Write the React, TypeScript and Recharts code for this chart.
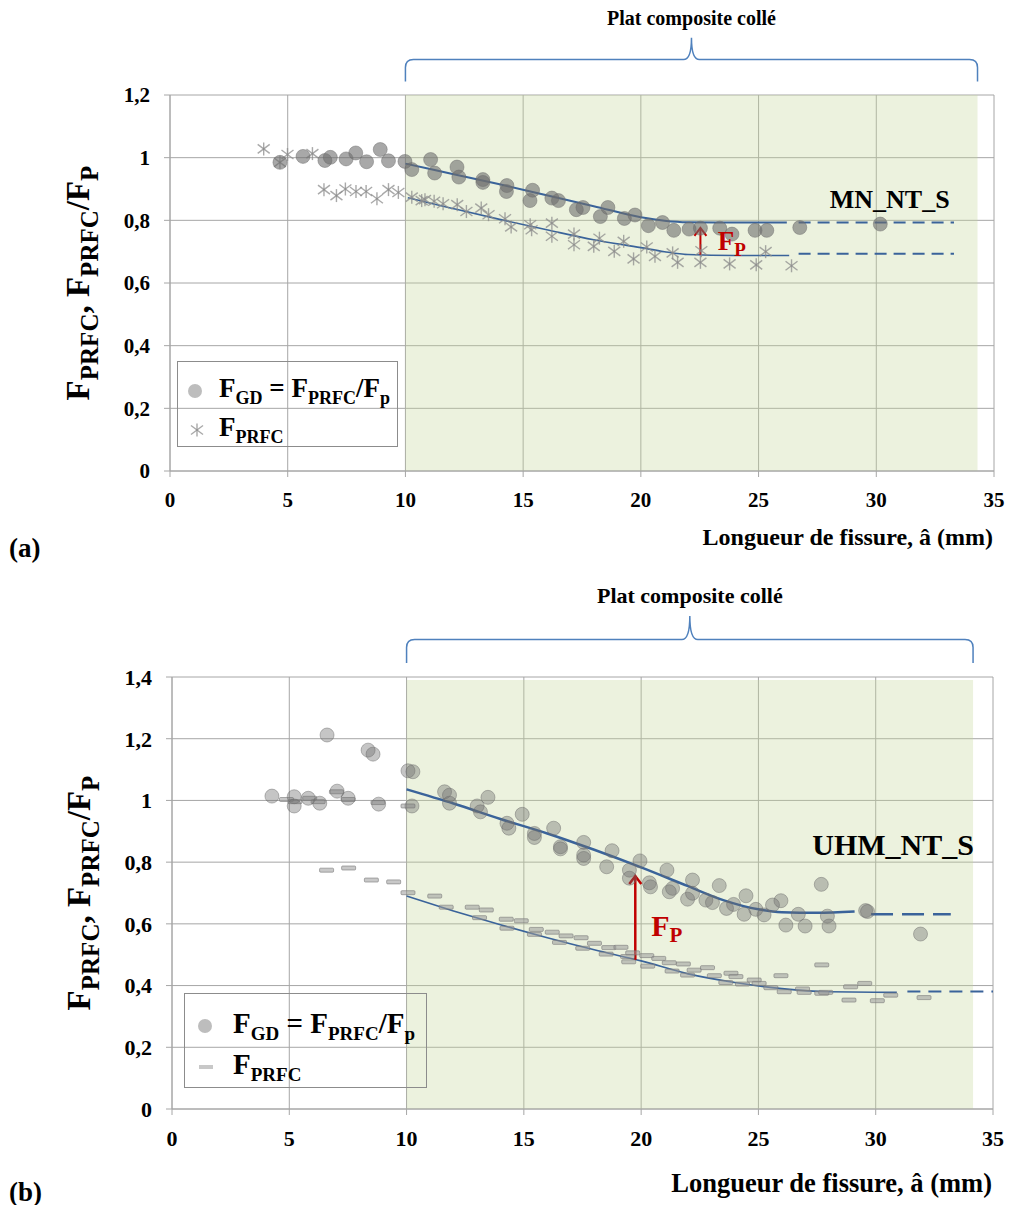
import React from 'react';
import {
  CartesianGrid,
  ComposedChart,
  Legend,
  Line,
  ReferenceArea,
  ReferenceDot,
  ReferenceLine,
  Scatter,
  XAxis,
  YAxis,
} from 'recharts';

const SERIF = '"Liberation Serif", "Times New Roman", serif';
const GRID = '#a6a6a6';
const FIT = '#3a639a';
const RED = '#c00000';
const PLATE = '#c4d79b';
const BRACE = '#4f81bd';

type Pt = [number, number];

// shared axes
const xTicks = [0, 5, 10, 15, 20, 25, 30, 35];
const yTicksA = [0, 0.2, 0.4, 0.6, 0.8, 1, 1.2];
const yTicksB = [0, 0.2, 0.4, 0.6, 0.8, 1, 1.2, 1.4];
const plateStart = 10;
const plateEndA = 34.3;
const plateEndB = 34.15;

// (a) MN_NT_S : F_GD = F_PRFC / Fp (circles)
const gdA: Pt[] = [
  [4.67, 0.985], [5.65, 1.004], [6.58, 0.991], [6.81, 1.001], [7.48, 0.996], [7.89, 1.015],
  [8.35, 0.987], [8.93, 1.026], [9.28, 0.99], [9.98, 0.988], [10.27, 0.962], [11.07, 0.994],
  [11.24, 0.951], [12.19, 0.97], [12.27, 0.938], [13.29, 0.93], [13.29, 0.921], [14.31, 0.911],
  [14.29, 0.892], [15.4, 0.896], [15.29, 0.863], [16.22, 0.871], [16.5, 0.863], [17.26, 0.834],
  [17.54, 0.841], [18.28, 0.812], [18.6, 0.841], [19.3, 0.806], [19.75, 0.817], [20.32, 0.783],
  [20.92, 0.793], [21.4, 0.768], [22.05, 0.772], [22.53, 0.775], [23.35, 0.775], [23.87, 0.756],
  [24.85, 0.768], [25.35, 0.768], [26.75, 0.777], [30.17, 0.788],
];

// (a) F_PRFC (stars)
const prfcA: Pt[] = [
  [3.98, 1.028], [4.67, 0.985], [4.99, 1.01], [6.05, 1.013], [6.54, 0.898], [7.07, 0.879],
  [7.45, 0.9], [7.9, 0.892], [8.33, 0.892], [8.79, 0.869], [9.28, 0.898], [9.7, 0.889],
  [10.27, 0.874], [10.69, 0.863], [10.83, 0.866], [11.22, 0.861], [11.6, 0.853], [12.2, 0.85],
  [12.59, 0.828], [13.22, 0.839], [13.53, 0.818], [14.23, 0.805], [14.49, 0.779], [15.3, 0.786],
  [15.36, 0.77], [16.22, 0.791], [16.22, 0.749], [17.16, 0.756], [17.16, 0.722], [18.0, 0.717],
  [18.24, 0.743], [18.87, 0.701], [19.27, 0.733], [19.69, 0.677], [20.25, 0.715], [20.6, 0.685],
  [21.35, 0.696], [21.56, 0.666], [22.53, 0.666], [22.57, 0.703], [23.77, 0.661], [24.9, 0.658],
  [25.3, 0.7], [26.4, 0.655],
];

// (a) trend curves + dashed extensions
const fitGdA: Pt[] = [
  [10, 0.981], [12, 0.948], [14, 0.915], [16, 0.88], [18, 0.845], [20, 0.81], [21, 0.799],
  [22, 0.794], [24, 0.793], [26.2, 0.793],
];
const extGdA: Pt[] = [[26.7, 0.793], [33.3, 0.793]];
const fitPrfcA: Pt[] = [
  [10.1, 0.872], [12, 0.838], [14, 0.803], [16, 0.77], [18, 0.738], [20, 0.713], [21, 0.7],
  [22, 0.691], [24, 0.688], [26.3, 0.688],
];
const extPrfcA: Pt[] = [[26.7, 0.693], [33.3, 0.693]];
const fpArrowA: Pt[] = [[22.53, 0.69], [22.53, 0.779]];

// (b) UHM_NT_S : F_GD (circles)
const gdB: Pt[] = [
  [4.26, 1.014], [5.21, 1.012], [5.21, 0.982], [5.81, 1.007], [6.3, 0.991], [6.61, 1.212],
  [7.04, 1.03], [7.51, 1.007], [8.36, 1.163], [8.57, 1.15], [8.81, 0.988], [10.06, 1.096],
  [10.27, 1.093], [10.23, 0.982], [11.62, 1.028], [11.83, 1.017], [11.83, 0.991], [13.01, 0.982],
  [13.15, 0.963], [13.47, 1.01], [14.28, 0.926], [14.36, 0.91], [14.93, 0.955], [15.45, 0.893],
  [15.45, 0.88], [16.27, 0.91], [16.56, 0.85], [16.56, 0.843], [17.55, 0.864], [17.55, 0.823],
  [17.55, 0.812], [18.53, 0.785], [18.76, 0.837], [19.5, 0.774], [19.5, 0.748], [19.95, 0.804],
  [20.35, 0.733], [20.4, 0.72], [21.1, 0.774], [21.2, 0.704], [21.34, 0.715], [21.98, 0.68],
  [22.19, 0.742], [22.19, 0.699], [22.76, 0.677], [23.04, 0.669], [23.33, 0.724], [23.64, 0.65],
  [23.94, 0.663], [24.47, 0.691], [24.39, 0.631], [24.89, 0.647], [25.24, 0.629], [25.6, 0.661],
  [25.96, 0.675], [26.17, 0.596], [26.7, 0.631], [26.99, 0.593], [27.68, 0.728], [27.94, 0.625],
  [28.01, 0.593], [29.57, 0.643], [29.65, 0.64], [31.91, 0.567],
];

// (b) F_PRFC (dashes)
const prfcB: Pt[] = [
  [4.88, 1.003], [5.24, 0.996], [5.87, 1.007], [6.23, 0.996], [7.01, 1.028], [7.51, 1.003],
  [8.78, 0.993], [10.06, 0.982], [6.59, 0.774], [7.53, 0.781], [8.5, 0.742], [9.45, 0.736],
  [10.06, 0.701], [11.2, 0.69], [11.69, 0.654], [12.8, 0.654], [13.11, 0.62], [13.4, 0.645],
  [14.25, 0.615], [14.28, 0.586], [14.89, 0.61], [15.45, 0.566], [15.53, 0.582], [16.21, 0.573],
  [16.52, 0.54], [16.8, 0.561], [17.44, 0.555], [17.51, 0.521], [18.01, 0.537], [18.51, 0.502],
  [18.62, 0.523], [19.14, 0.524], [19.42, 0.494], [19.47, 0.477], [19.64, 0.506], [20.24, 0.497],
  [20.28, 0.463], [20.75, 0.488], [21.2, 0.474], [21.32, 0.447], [21.8, 0.47], [21.98, 0.434],
  [22.26, 0.45], [22.83, 0.458], [23.12, 0.432], [23.61, 0.41], [23.83, 0.44], [24.04, 0.429],
  [24.32, 0.405], [24.82, 0.418], [25.03, 0.407], [25.53, 0.393], [25.96, 0.432], [26.1, 0.38],
  [26.88, 0.389], [26.95, 0.378], [27.7, 0.467], [27.7, 0.375], [27.87, 0.378], [28.86, 0.353],
  [28.93, 0.396], [29.53, 0.407], [30.07, 0.351], [30.64, 0.369], [32.06, 0.361],
];

const fitGdB: Pt[] = [
  [10, 1.036], [12, 0.99], [14, 0.94], [16, 0.893], [18, 0.84], [20, 0.783], [22, 0.722],
  [23.5, 0.677], [25, 0.647], [26, 0.638], [27.5, 0.636], [29.1, 0.64],
];
const extGdB: Pt[] = [[29.8, 0.631], [33.2, 0.631]];
const fitPrfcB: Pt[] = [
  [10, 0.69], [12, 0.642], [14, 0.597], [16, 0.555], [18, 0.516], [20, 0.48], [22, 0.438],
  [24, 0.41], [26, 0.39], [28, 0.38], [30.9, 0.378],
];
const extPrfcB: Pt[] = [[31.35, 0.381], [35, 0.381]];
const fpArrowB: Pt[] = [[19.75, 0.483], [19.75, 0.758]];

const pts = (a: Pt[]) => a.map(([x, y]) => ({ x, y }));
const fmt = (v: number) => String(v).replace('.', ',');

/* ---------- markers ---------- */
function CircleMark({ cx, cy, op }: { cx: number; cy: number; op: number }) {
  return (
    <circle cx={cx} cy={cy} r={7} fill="#6e6e6e" fillOpacity={op} stroke="#6a6a6a" strokeOpacity={0.45} />
  );
}

function StarMark({ cx, cy }: { cx: number; cy: number }) {
  return (
    <g stroke="#8c8c8c" strokeOpacity={0.75} strokeWidth={1.4}>
      <line x1={cx} y1={cy - 6.5} x2={cx} y2={cy + 6.5} />
      <line x1={cx - 6} y1={cy - 4.5} x2={cx + 6} y2={cy + 4.5} />
      <line x1={cx - 6} y1={cy + 4.5} x2={cx + 6} y2={cy - 4.5} />
    </g>
  );
}

function DashMark({ cx, cy }: { cx: number; cy: number }) {
  return (
    <rect x={cx - 7} y={cy - 2} width={14} height={4} rx={1} fill="#9a9a9a" fillOpacity={0.55}
      stroke="#7a7a7a" strokeOpacity={0.6} />
  );
}

/* ---------- decorations ---------- */
const braceShape = (label: string, fs: number) => (p: any) => {
  const { x, y, width, height } = p;
  const mid = y + height / 2;
  const bottom = y + height;
  const cx = x + width / 2;
  const r = 8;
  const d =
    `M${x},${bottom} L${x},${mid + r} Q${x},${mid} ${x + r},${mid} L${cx - r},${mid} ` +
    `Q${cx},${mid} ${cx},${y} Q${cx},${mid} ${cx + r},${mid} L${x + width - r},${mid} ` +
    `Q${x + width},${mid} ${x + width},${mid + r} L${x + width},${bottom}`;
  return (
    <g>
      <path d={d} fill="none" stroke={BRACE} strokeWidth={1.5} />
      <text x={cx} y={y - 13} textAnchor="middle" fontFamily={SERIF} fontWeight="bold" fontSize={fs} fill="#000">
        {label}
      </text>
    </g>
  );
};

const arrowShape = (w: number) => (p: any) => {
  const { x1, y1, y2 } = p;
  const top = Math.min(y1, y2);
  const bot = Math.max(y1, y2);
  return (
    <g stroke={RED} strokeWidth={w} fill="none">
      <line x1={x1} y1={bot} x2={x1} y2={top + 1} />
      <polyline points={`${x1 - 6},${top + 9} ${x1},${top + 1} ${x1 + 6},${top + 9}`} />
    </g>
  );
};

const fpLabel = (fs: number, sub: number) => (p: any) => (
  <text x={p.cx} y={p.cy} fontFamily={SERIF} fontWeight="bold" fill={RED}>
    <tspan fontSize={fs}>F</tspan>
    <tspan fontSize={sub} dy={6}>P</tspan>
  </text>
);

const nameLabel = (name: string, fs: number) => (p: any) => (
  <text x={p.cx} y={p.cy} textAnchor="middle" fontFamily={SERIF} fontWeight="bold" fontSize={fs} fill="#000">
    {name}
  </text>
);

const yTitle = (fs: number, sub: number, off: number) => (props: any) => {
  const vb = props.viewBox;
  const cx = vb.x - off;
  const cy = vb.y + vb.height / 2;
  const d = Math.round(sub * 0.35);
  return (
    <text x={cx} y={cy} transform={`rotate(-90 ${cx} ${cy})`} textAnchor="middle" fontFamily={SERIF}
      fontWeight="bold" fill="#000">
      <tspan fontSize={fs}>F</tspan>
      <tspan fontSize={sub} dy={d}>PRFC</tspan>
      <tspan fontSize={fs} dy={-d}>, F</tspan>
      <tspan fontSize={sub} dy={d}>PRFC</tspan>
      <tspan fontSize={fs} dy={-d}>/F</tspan>
      <tspan fontSize={sub} dy={d}>P</tspan>
    </text>
  );
};

const xTitle = (fs: number, below: number) => (props: any) => {
  const vb = props.viewBox;
  return (
    <text x={vb.x + vb.width - 1} y={vb.y + below} textAnchor="end" fontFamily={SERIF} fontWeight="bold"
      fontSize={fs} fill="#000">
      Longueur de fissure, â (mm)
    </text>
  );
};

/* ---------- legend ---------- */
function Sub({ children, size }: { children: React.ReactNode; size: number }) {
  return <span style={{ fontSize: size, position: 'relative', top: size * 0.38 }}>{children}</span>;
}

const legendBox = (o: {
  w: number; h: number; rows: [number, number]; markX: number; textX: number; fs: number; sub: number;
  second: 'star' | 'dash';
}) => () => (
  <div style={{ position: 'relative', width: o.w, height: o.h, border: '1px solid #8c8c8c', boxSizing: 'border-box',
    fontFamily: SERIF, fontWeight: 'bold', color: '#000' }}>
    <svg width={o.w} height={o.h} style={{ position: 'absolute', left: -1, top: -1 }}>
      <circle cx={o.markX} cy={o.rows[0]} r={7} fill="#bdbdbd" />
      {o.second === 'star' ? (
        <StarMark cx={o.markX + 2} cy={o.rows[1]} />
      ) : (
        <rect x={o.markX - 6} y={o.rows[1] - 2} width={14} height={4} fill="#c8c8c8" />
      )}
    </svg>
    <div style={{ position: 'absolute', left: o.textX - 1, top: o.rows[0] - o.fs * 0.62, fontSize: o.fs, lineHeight: 1,
      whiteSpace: 'nowrap' }}>
      F<Sub size={o.sub}>GD</Sub> = F<Sub size={o.sub}>PRFC</Sub>/F<Sub size={o.sub}>p</Sub>
    </div>
    <div style={{ position: 'absolute', left: o.textX - 1, top: o.rows[1] - o.fs * 0.62, fontSize: o.fs, lineHeight: 1,
      whiteSpace: 'nowrap' }}>
      F<Sub size={o.sub}>PRFC</Sub>
    </div>
  </div>
);

const tickStyle = (fs: number) => ({ fill: '#000', fontSize: fs, fontWeight: 'bold', fontFamily: SERIF });

export default function App() {
  return (
    <div style={{ position: 'absolute', left: 0, top: 0, width: 1013, height: 1205, background: '#fff',
      fontFamily: SERIF }}>
      {/* (a) */}
      <div style={{ position: 'absolute', left: 0, top: 0 }}>
        <ComposedChart width={1013} height={560} margin={{ top: 95, right: 19, bottom: 49, left: 110 }}>
          <CartesianGrid stroke={GRID} />
          <ReferenceArea x1={plateStart} x2={plateEndA} y1={0} y2={1.2} fill={PLATE} fillOpacity={0.33} stroke="none" />
          <ReferenceArea x1={plateStart} x2={plateEndA} y1={1.243} y2={1.383} ifOverflow="visible"
            shape={braceShape('Plat composite collé', 20)} />
          <XAxis type="number" dataKey="x" domain={[0, 35]} ticks={xTicks} interval={0} allowDataOverflow height={40}
            tick={tickStyle(21)} tickSize={6} tickMargin={15} stroke={GRID} tickLine={{ stroke: GRID }}
            label={xTitle(24, 74)} />
          <YAxis type="number" dataKey="y" domain={[0, 1.2]} ticks={yTicksA} interval={0} allowDataOverflow width={60}
            tick={tickStyle(21)} tickSize={6} tickMargin={14} tickFormatter={fmt} stroke={GRID}
            tickLine={{ stroke: GRID }} label={yTitle(33, 25, 21)} />
          <Scatter data={pts(prfcA)} dataKey="y" isAnimationActive={false}
            shape={(p: any) => <StarMark cx={p.cx} cy={p.cy} />} />
          <Scatter data={pts(gdA)} dataKey="y" isAnimationActive={false}
            shape={(p: any) => <CircleMark cx={p.cx} cy={p.cy} op={0.6} />} />
          <Line data={pts(fitGdA)} dataKey="y" type="monotone" stroke={FIT} strokeWidth={2} dot={false}
            isAnimationActive={false} />
          <Line data={pts(fitPrfcA)} dataKey="y" type="monotone" stroke={FIT} strokeWidth={1.6} dot={false}
            isAnimationActive={false} />
          <Line data={pts(extGdA)} dataKey="y" stroke={FIT} strokeWidth={2} strokeDasharray="12 7" dot={false}
            isAnimationActive={false} />
          <Line data={pts(extPrfcA)} dataKey="y" stroke={FIT} strokeWidth={2} strokeDasharray="12 7" dot={false}
            isAnimationActive={false} />
          <ReferenceLine segment={pts(fpArrowA)} shape={arrowShape(2)} />
          <ReferenceDot x={23.27} y={0.706} r={0} shape={fpLabel(27, 19)} />
          <ReferenceDot x={30.57} y={0.838} r={0} shape={nameLabel('MN_NT_S', 26)} />
          <Legend layout="vertical" align="center" verticalAlign="middle"
            wrapperStyle={{ left: 177, top: 361, width: 221, height: 86 }}
            content={legendBox({ w: 221, h: 86, rows: [30, 69], markX: 18, textX: 42, fs: 27, sub: 18, second: 'star' })} />
        </ComposedChart>
        <div style={{ position: 'absolute', left: 9, top: 536, fontSize: 27, fontWeight: 'bold', lineHeight: '24px' }}>
          (a)
        </div>
      </div>

      {/* (b) */}
      <div style={{ position: 'absolute', left: 0, top: 580 }}>
        <ComposedChart width={1013} height={625} margin={{ top: 97, right: 20, bottom: 56, left: 112 }}>
          <CartesianGrid stroke={GRID} />
          <ReferenceArea x1={plateStart} x2={plateEndB} y1={0} y2={1.39} fill={PLATE} fillOpacity={0.33} stroke="none" />
          <ReferenceArea x1={plateStart} x2={plateEndB} y1={1.445} y2={1.598} ifOverflow="visible"
            shape={braceShape('Plat composite collé', 22)} />
          <XAxis type="number" dataKey="x" domain={[0, 35]} ticks={xTicks} interval={0} allowDataOverflow height={40}
            tick={tickStyle(22)} tickSize={6} tickMargin={15} stroke={GRID} tickLine={{ stroke: GRID }}
            label={xTitle(26.5, 83)} />
          <YAxis type="number" dataKey="y" domain={[0, 1.4]} ticks={yTicksB} interval={0} allowDataOverflow width={60}
            tick={tickStyle(22)} tickSize={6} tickMargin={14} tickFormatter={fmt} stroke={GRID}
            tickLine={{ stroke: GRID }} label={yTitle(33, 25, 22)} />
          <Scatter data={pts(prfcB)} dataKey="y" isAnimationActive={false}
            shape={(p: any) => <DashMark cx={p.cx} cy={p.cy} />} />
          <Scatter data={pts(gdB)} dataKey="y" isAnimationActive={false}
            shape={(p: any) => <CircleMark cx={p.cx} cy={p.cy} op={0.4} />} />
          <Line data={pts(fitGdB)} dataKey="y" type="monotone" stroke={FIT} strokeWidth={2.5} dot={false}
            isAnimationActive={false} />
          <Line data={pts(fitPrfcB)} dataKey="y" type="monotone" stroke={FIT} strokeWidth={1.6} dot={false}
            isAnimationActive={false} />
          <Line data={pts(extGdB)} dataKey="y" stroke={FIT} strokeWidth={2.5} strokeDasharray="22 9" dot={false}
            isAnimationActive={false} />
          <Line data={pts(extPrfcB)} dataKey="y" stroke={FIT} strokeWidth={2} strokeDasharray="13 8" dot={false}
            isAnimationActive={false} />
          <ReferenceLine segment={pts(fpArrowB)} shape={arrowShape(2.5)} />
          <ReferenceDot x={20.43} y={0.561} r={0} shape={fpLabel(30, 21)} />
          <ReferenceDot x={30.74} y={0.823} r={0} shape={nameLabel('UHM_NT_S', 30)} />
          <Legend layout="vertical" align="center" verticalAlign="middle"
            wrapperStyle={{ left: 184, top: 413, width: 243, height: 95 }}
            content={legendBox({ w: 243, h: 95, rows: [33, 74], markX: 21, textX: 49, fs: 29, sub: 19, second: 'dash' })} />
        </ComposedChart>
        <div style={{ position: 'absolute', left: 9, top: 600, fontSize: 27, fontWeight: 'bold', lineHeight: '24px' }}>
          (b)
        </div>
      </div>
    </div>
  );
}
